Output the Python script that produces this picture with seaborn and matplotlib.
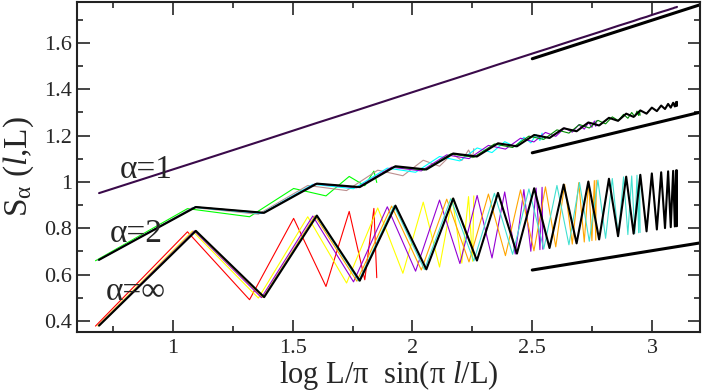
import numpy as np
import seaborn as sns
import matplotlib
matplotlib.use('Agg')
import matplotlib.pyplot as plt
from matplotlib.ticker import MultipleLocator, FixedLocator, FixedFormatter

# ---------------- data ----------------
sizes = [20, 30, 40, 50, 60, 70]

# x = log(L/pi sin(pi l/L)), l = 2 .. L/2
x20 = [0.677, 1.061, 1.320, 1.504, 1.639, 1.736, 1.801, 1.839, 1.851]
x30 = [0.686, 1.082, 1.357, 1.563, 1.725, 1.855, 1.960, 2.045, 2.113, 2.166, 2.206, 2.234, 2.251, 2.256]
x40 = [0.689, 1.089, 1.370, 1.584, 1.754, 1.895, 2.013, 2.113, 2.198, 2.270, 2.332, 2.385, 2.429, 2.465,
       2.494, 2.516, 2.532, 2.541, 2.544]
x50 = [0.691, 1.093, 1.376, 1.593, 1.768, 1.913, 2.037, 2.143, 2.236, 2.317, 2.388, 2.451, 2.507, 2.555,
       2.598, 2.635, 2.667, 2.694, 2.717, 2.735, 2.749, 2.759, 2.765, 2.767]
x60 = [0.691, 1.094, 1.379, 1.598, 1.775, 1.923, 2.050, 2.160, 2.256, 2.342, 2.418, 2.486, 2.548, 2.603,
       2.653, 2.697, 2.738, 2.774, 2.806, 2.834, 2.859, 2.881, 2.899, 2.915, 2.928, 2.937, 2.944, 2.948, 2.950]
x70 = [0.692, 1.096, 1.381, 1.601, 1.780, 1.929, 2.058, 2.170, 2.269, 2.357, 2.436, 2.508, 2.572, 2.631,
       2.685, 2.734, 2.779, 2.820, 2.858, 2.892, 2.923, 2.951, 2.977, 2.999, 3.020, 3.038, 3.054, 3.067,
       3.078, 3.088, 3.095, 3.100, 3.103, 3.104]

# alpha = 1
s1_70 = [0.952, 1.086, 1.181, 1.255, 1.314, 1.364, 1.407, 1.444, 1.477, 1.507, 1.533, 1.557, 1.578, 1.598,
         1.616, 1.632, 1.647, 1.661, 1.674, 1.685, 1.695, 1.705, 1.713, 1.721, 1.728, 1.734, 1.739, 1.743,
         1.747, 1.750, 1.753, 1.754, 1.755, 1.756]

# alpha = 2
s2_20 = [0.660, 0.885, 0.850, 0.972, 0.940, 1.024, 0.984, 1.047, 0.998]
s2_30 = [0.662, 0.890, 0.861, 0.985, 0.963, 1.051, 1.027, 1.094, 1.068, 1.122, 1.093, 1.138, 1.105, 1.144]
s2_40 = [0.663, 0.891, 0.864, 0.990, 0.971, 1.060, 1.042, 1.110, 1.091, 1.147, 1.127, 1.174, 1.152, 1.193,
         1.169, 1.205, 1.179, 1.211, 1.183]
s2_50 = [0.664, 0.892, 0.866, 0.992, 0.975, 1.064, 1.048, 1.117, 1.101, 1.158, 1.142, 1.189, 1.173, 1.214,
         1.197, 1.233, 1.215, 1.247, 1.228, 1.257, 1.236, 1.263, 1.240, 1.265]
s2_60 = [0.664, 0.892, 0.867, 0.993, 0.977, 1.066, 1.052, 1.121, 1.107, 1.164, 1.149, 1.198, 1.184, 1.225,
         1.211, 1.248, 1.233, 1.266, 1.251, 1.281, 1.265, 1.292, 1.275, 1.300, 1.282, 1.306, 1.287, 1.308, 1.288]
s2_70 = [0.664, 0.892, 0.867, 0.993, 0.978, 1.068, 1.054, 1.123, 1.110, 1.167, 1.154, 1.203, 1.190, 1.232,
         1.219, 1.257, 1.244, 1.277, 1.264, 1.295, 1.281, 1.309, 1.295, 1.321, 1.306, 1.330, 1.315, 1.337,
         1.321, 1.342, 1.326, 1.345, 1.328, 1.346]

# alpha = infinity
sinf_20 = [0.378, 0.785, 0.492, 0.843, 0.549, 0.873, 0.578, 0.886, 0.587]
sinf_30 = [0.379, 0.788, 0.499, 0.850, 0.564, 0.888, 0.606, 0.913, 0.633, 0.929, 0.650, 0.937, 0.658, 0.940]
sinf_40 = [0.380, 0.789, 0.501, 0.853, 0.569, 0.893, 0.615, 0.922, 0.648, 0.942, 0.672, 0.957, 0.689, 0.967,
           0.701, 0.974, 0.708, 0.977, 0.710]
sinf_50 = [0.380, 0.789, 0.502, 0.854, 0.572, 0.896, 0.620, 0.926, 0.655, 0.948, 0.682, 0.966, 0.703, 0.979,
           0.720, 0.990, 0.732, 0.997, 0.741, 1.003, 0.747, 1.006, 0.749, 1.007]
sinf_60 = [0.380, 0.789, 0.503, 0.855, 0.573, 0.897, 0.622, 0.928, 0.659, 0.951, 0.688, 0.970, 0.711, 0.985,
           0.729, 0.998, 0.744, 1.008, 0.757, 1.015, 0.766, 1.022, 0.773, 1.026, 0.778, 1.029, 0.781, 1.030, 0.782]
sinf_70 = [0.380, 0.789, 0.503, 0.855, 0.574, 0.898, 0.623, 0.929, 0.661, 0.953, 0.691, 0.973, 0.715, 0.989,
           0.735, 1.002, 0.752, 1.014, 0.766, 1.023, 0.777, 1.031, 0.787, 1.037, 0.795, 1.042, 0.801, 1.046,
           0.805, 1.048, 0.808, 1.050, 0.809, 1.050]

# reference slopes (straight guide lines)
guide_x = [2.5, 3.2]
guide_1 = [1.532, 1.765]
guide_2 = [1.126, 1.301]
guide_inf = [0.620, 0.737]

x_ticks = [1, 1.5, 2, 2.5, 3]
x_tick_labels = ['1', '1.5', '2', '2.5', '3']
y_ticks = [0.4, 0.6, 0.8, 1.0, 1.2, 1.4, 1.6]
y_tick_labels = ['0.4', '0.6', '0.8', '1', '1.2', '1.4', '1.6']

xs = [x20, x30, x40, x50, x60, x70]
s2 = [s2_20, s2_30, s2_40, s2_50, s2_60, s2_70]
sinf = [sinf_20, sinf_30, sinf_40, sinf_50, sinf_60, sinf_70]

col2 = ['#00ff00', '#bc8f8f', '#00ffff', '#9400d3', '#008b00', '#000000']
colinf = ['#ff0000', '#ffff00', '#9400d3', '#ffa500', '#40e0d0', '#000000']

# ---------------- plot ----------------
sns.set_style('ticks')
plt.rcParams['font.family'] = ['Liberation Serif', 'DejaVu Serif']
plt.rcParams['mathtext.fontset'] = 'custom'
plt.rcParams['mathtext.rm'] = 'Liberation Serif'
plt.rcParams['mathtext.it'] = 'Liberation Serif:italic'

fig, ax = plt.subplots(figsize=(7.04, 3.91), dpi=100)
fig.subplots_adjust(left=0.1094, right=0.9943, top=0.9949, bottom=0.1509)

for L, x, y2, yi, c2, ci in zip(sizes, xs, s2, sinf, col2, colinf):
    lw = 1.5 if L == 70 else 0.8
    sns.lineplot(x=x, y=y2, color=c2, lw=lw, ax=ax, sort=False, estimator=None)
    sns.lineplot(x=x, y=yi, color=ci, lw=lw, ax=ax, sort=False, estimator=None)

sns.lineplot(x=x70, y=s1_70, color='#3a0a4a', lw=1.5, ax=ax, sort=False, estimator=None)

for g in (guide_1, guide_2, guide_inf):
    sns.lineplot(x=guide_x, y=g, color='black', lw=2.2, ax=ax)

ax.set_xlim(0.6, 3.2)
ax.set_ylim(0.3525, 1.777)
ax.xaxis.set_major_locator(FixedLocator(x_ticks))
ax.xaxis.set_major_formatter(FixedFormatter(x_tick_labels))
ax.xaxis.set_minor_locator(MultipleLocator(0.25))
ax.yaxis.set_major_locator(FixedLocator(y_ticks))
ax.yaxis.set_major_formatter(FixedFormatter(y_tick_labels))
ax.yaxis.set_minor_locator(MultipleLocator(0.1))
ax.tick_params(which='both', direction='in', top=True, right=True, color='#444444', width=1.4)
ax.tick_params(which='major', length=9, labelsize=16)
ax.tick_params(axis='x', which='major', pad=5)
ax.tick_params(axis='y', which='major', pad=3.5)
ax.tick_params(which='minor', length=4.5)
for s in ax.spines.values():
    s.set_linewidth(1.5)
    s.set_color('#222222')

ax.text(0.779, 1.018, 'α=1', fontsize=24, ha='left', va='baseline')
ax.text(0.7375, 0.741, 'α=2', fontsize=24, ha='left', va='baseline')
ax.text(0.72, 0.49, 'α=∞', fontsize=24, ha='left', va='baseline')
ax.set_xlabel('log L/π  sin(π $\\mathit{l}$/L)', fontsize=22, labelpad=0)
ax.set_ylabel('S$_\\mathregular{α}$ ($\\mathit{l}$,L)', fontsize=24, labelpad=6)

fig.savefig('out.png', dpi=100)
